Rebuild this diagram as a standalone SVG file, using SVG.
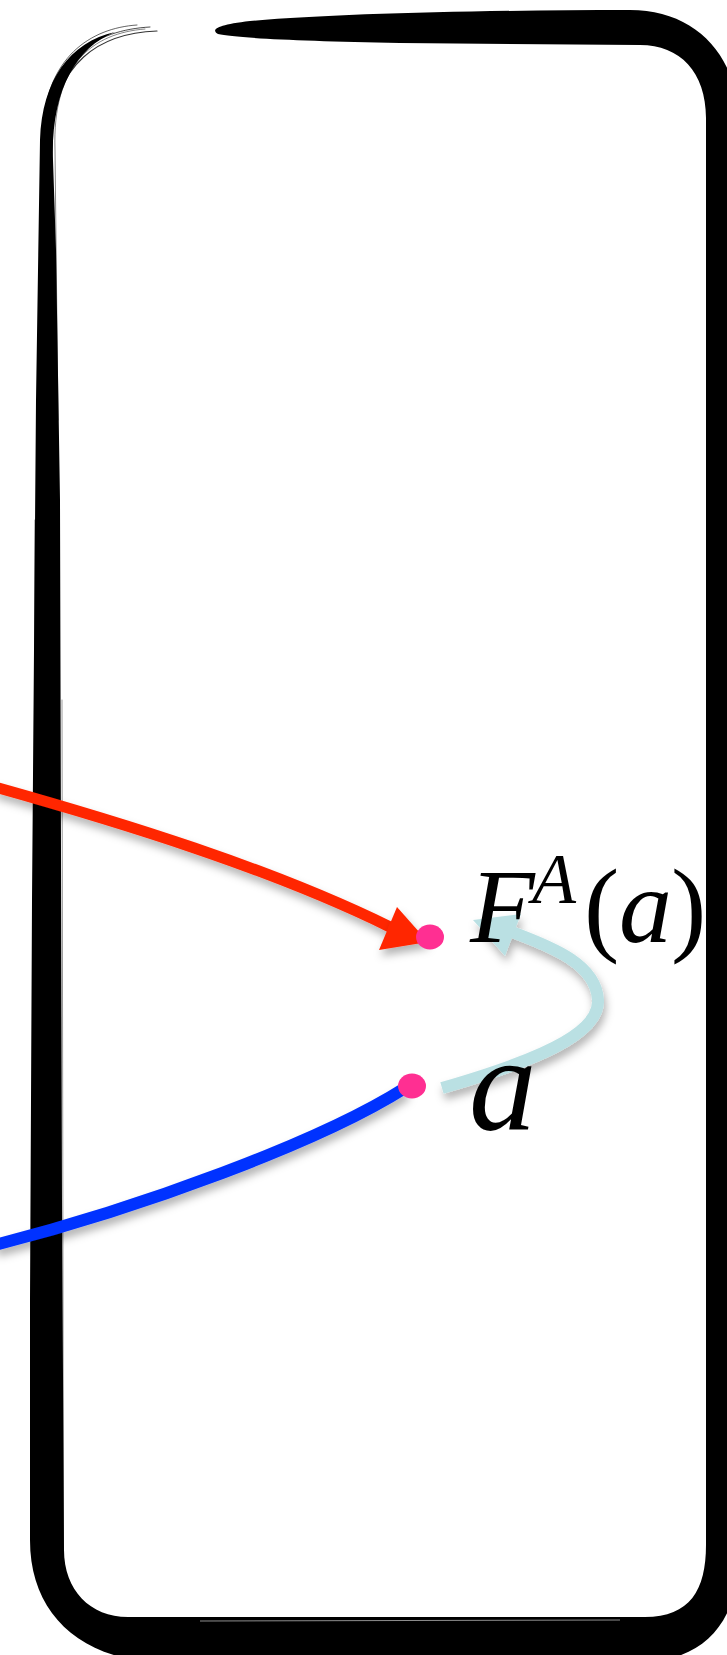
<svg xmlns="http://www.w3.org/2000/svg" width="727" height="1655" viewBox="0 0 727 1655">
<defs>
<style>
.lbl{font-family:"Liberation Serif","Times New Roman",serif;fill:#000}
.it{font-style:italic}
.dot{fill:#ff2f92}
.thin{fill:none;stroke:#000;stroke-linecap:round}
</style>
<filter id="sh" x="-20%" y="-20%" width="140%" height="160%">
<feDropShadow dx="2" dy="6" stdDeviation="4" flood-color="#000" flood-opacity="0.3"/>
</filter>
</defs>
<rect width="727" height="1655" fill="#fff"/>
<g id="frame">
<path fill="#000" d="M115,32 C70,42 42,80 40,140 L36,400 L32,900 L30,1300 L30,1540 C30,1610 75,1655 150,1662 L640,1662 C700,1662 738,1625 738,1560 L738,120 C738,55 695,10 630,10 C480,10 330,14 250,21 C215,25 211,30 218,34 C235,38 300,41 400,43 L640,45 C680,45 706,72 706,118 L706,1545 C706,1590 690,1617 645,1617 L128,1617 C90,1617 64,1590 64,1550 L62,1200 L60,500 L56,250 L53,160 C51,92 75,48 115,32 Z"/>
<path class="thin" stroke-width="1.2" stroke-opacity="0.8" d="M157,31 C100,33 54,62 50,140 L48,300"/>
<path class="thin" stroke-width="1" stroke-opacity="0.7" d="M150,27 C95,30 50,58 46,135 L44,320"/>
<path class="thin" stroke-width="1" stroke-opacity="0.6" d="M137,25 C90,28 46,58 43,130 L40,280"/>
<path class="thin" stroke-width="0.8" stroke-opacity="0.6" d="M145,29 C93,33 52,64 55,150 L58,420"/>
<path class="thin" stroke-width="1" stroke-opacity="0.4" d="M62,700 L63.5,1560"/>
<path class="thin" stroke-width="1" stroke-opacity="0.5" d="M35,520 L34,900"/>
<path fill="none" stroke="#fff" stroke-width="0.8" stroke-opacity="0.7" d="M200,1621 L620,1620"/>
</g>
<g id="connectors">
<path d="M-5,787 C120,822 270,868 390,927" fill="none" stroke="#ff2600" stroke-width="11" filter="url(#sh)"/>
<polygon points="428,942 397,907 379,950" fill="#ff2600" filter="url(#sh)"/>
<path d="M-5,1245 C140,1208 320,1142 405,1088" fill="none" stroke="#0433ff" stroke-width="12" filter="url(#sh)"/>
<g filter="url(#sh)">
<path d="M442,1088 C532,1062 600,1035 598,1000 C596,965 555,948 512,932" fill="none" stroke="#bae0e3" stroke-width="12"/>
<polygon points="473,920 521,914 505,956" fill="#bae0e3"/>
</g>
</g>
<g id="node-FA">
<ellipse class="dot" cx="430" cy="937" rx="14" ry="12.5"/>
<text class="lbl" y="942" font-size="106"><tspan class="it" x="470">F</tspan><tspan class="it" x="532" y="903" font-size="72">A</tspan><tspan x="584" y="942">(</tspan><tspan class="it" x="619">a</tspan><tspan x="671">)</tspan></text>
</g>
<g id="node-a">
<ellipse class="dot" cx="412" cy="1086" rx="14" ry="12.5"/>
<text class="lbl it" x="469" y="1130" font-size="135">a</text>
</g>
</svg>
